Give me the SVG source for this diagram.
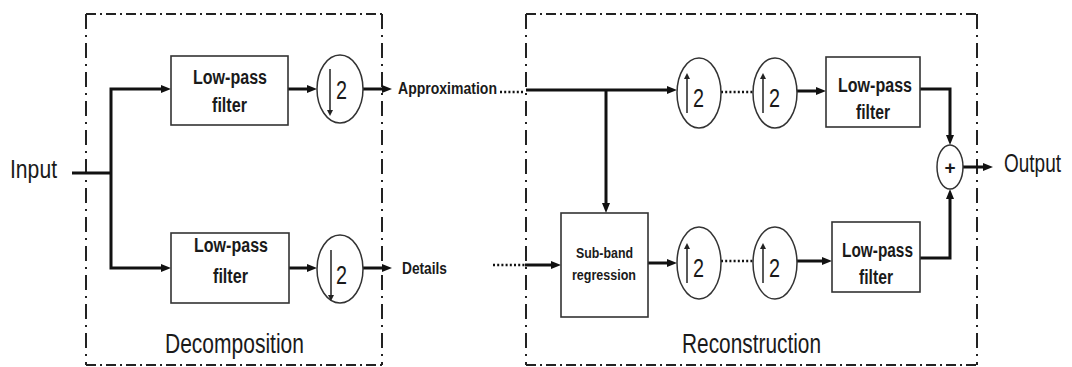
<svg xmlns="http://www.w3.org/2000/svg" width="1072" height="367" viewBox="0 0 1072 367">
<style>
.frameh{fill:none;stroke:#222;stroke-width:2;stroke-dasharray:10 4 2 4}
.framev{fill:none;stroke:#222;stroke-width:2;stroke-dasharray:15 6 2 6}
.box{fill:#fff;stroke:#333;stroke-width:1.6}
.circ{fill:#fff;stroke:#333;stroke-width:1.5}
.wire{fill:none;stroke:#111;stroke-width:3;stroke-linejoin:miter}
.arr{marker-end:url(#ah)}
.dots{fill:none;stroke:#111;stroke-width:2.5;stroke-dasharray:2 2.2}
.thin{fill:none;stroke:#222;stroke-width:1.5;marker-end:url(#ahs)}
.bl{font-family:"Liberation Sans",Arial,sans-serif;font-weight:bold;fill:#1a1a1a}
.lab{font-family:"Liberation Sans",Arial,sans-serif;fill:#1a1a1a}
.two{font-family:"Liberation Sans",Arial,sans-serif;font-size:26px;fill:#1a1a1a}
</style>
<defs>
<marker id="ah" viewBox="0 0 10 8" markerWidth="10" markerHeight="8" refX="3" refY="4" orient="auto" markerUnits="userSpaceOnUse">
<path d="M0,0 L10,4 L0,8 z" fill="#111"/>
</marker>
<marker id="ahs" viewBox="0 0 6 6" markerWidth="6" markerHeight="6" refX="1" refY="3" orient="auto" markerUnits="userSpaceOnUse">
<path d="M0,0 L6,3 L0,6 z" fill="#222"/>
</marker>
</defs>

<g id="frame-decomposition">
<path class="frameh" d="M86,14 H382 M86,365 H382"/>
<path class="framev" d="M86,14 V365 M382,14 V365"/>
<text class="lab" x="165" y="353" font-size="27" textLength="139" lengthAdjust="spacingAndGlyphs">Decomposition</text>
</g>
<g id="frame-reconstruction">
<path class="frameh" d="M526,14 H977 M526,365 H977"/>
<path class="framev" d="M526,14 V365 M977,14 V365"/>
<text class="lab" x="682" y="353" font-size="27" textLength="139" lengthAdjust="spacingAndGlyphs">Reconstruction</text>
</g>

<g id="connectors">
<path class="wire" d="M72,173 H111"/>
<path class="wire arr" d="M111,173 V89 H164"/>
<path class="wire arr" d="M111,173 V268 H164"/>
<path class="wire arr" d="M288,89 H310"/>
<path class="wire arr" d="M289,268 H310"/>
<path class="wire arr" d="M363,89 H385"/>
<path class="wire arr" d="M363,268 H385"/>
<path class="dots" d="M500,92 H525"/>
<path class="dots" d="M493,265 H525"/>
<path class="wire arr" d="M526,90 H670"/>
<path class="wire arr" d="M606,90 V206"/>
<path class="wire arr" d="M525,265 H554"/>
<path class="wire arr" d="M648,263 H670"/>
<path class="dots" d="M721,92 H753"/>
<path class="dots" d="M721,261 H753"/>
<path class="wire arr" d="M797,91 H819"/>
<path class="wire arr" d="M797,261 H825"/>
<path class="wire arr" d="M920,89 H950 V138"/>
<path class="wire arr" d="M920,258 H950 V196"/>
<path class="wire arr" d="M963,167 H986"/>
</g>

<g id="input">
<text class="lab" x="10" y="178" font-size="26" textLength="47" lengthAdjust="spacingAndGlyphs">Input</text>
</g>

<g id="lpf-dec-top">
<rect class="box" x="171" y="56" width="117" height="69"/>
<text class="bl" x="193" y="84" font-size="20" textLength="74" lengthAdjust="spacingAndGlyphs">Low-pass</text>
<text class="bl" x="212" y="112" font-size="20" textLength="35" lengthAdjust="spacingAndGlyphs">filter</text>
</g>
<g id="lpf-dec-bottom">
<rect class="box" x="171" y="233" width="118" height="70"/>
<text class="bl" x="194" y="252" font-size="20" textLength="74" lengthAdjust="spacingAndGlyphs">Low-pass</text>
<text class="bl" x="213" y="283" font-size="20" textLength="35" lengthAdjust="spacingAndGlyphs">filter</text>
</g>

<g id="down-top">
<ellipse class="circ" cx="340" cy="89" rx="23" ry="34"/>
<path class="thin" d="M330,69 V111"/>
<text class="two" x="336" y="99" textLength="11" lengthAdjust="spacingAndGlyphs">2</text>
</g>
<g id="down-bottom">
<ellipse class="circ" cx="340" cy="269" rx="23" ry="34"/>
<path class="thin" d="M331,250 V296"/>
<text class="two" x="336" y="284" textLength="11" lengthAdjust="spacingAndGlyphs">2</text>
</g>

<g id="approximation">
<text class="bl" x="398" y="94" font-size="17" textLength="99" lengthAdjust="spacingAndGlyphs">Approximation</text>
</g>
<g id="details">
<text class="bl" x="402" y="274" font-size="17" textLength="45" lengthAdjust="spacingAndGlyphs">Details</text>
</g>

<g id="subband-regression">
<rect class="box" x="561" y="213" width="87" height="104"/>
<text class="bl" x="576" y="258" font-size="15" textLength="57" lengthAdjust="spacingAndGlyphs">Sub-band</text>
<text class="bl" x="572" y="280" font-size="15" textLength="64" lengthAdjust="spacingAndGlyphs">regression</text>
</g>

<g id="up-top-1">
<ellipse class="circ" cx="699" cy="93" rx="22" ry="35"/>
<path class="thin" d="M687,113 V78"/>
<text class="two" x="693" y="107" textLength="11" lengthAdjust="spacingAndGlyphs">2</text>
</g>
<g id="up-top-2">
<ellipse class="circ" cx="775" cy="93" rx="22" ry="35"/>
<path class="thin" d="M763,113 V78"/>
<text class="two" x="769" y="107" textLength="11" lengthAdjust="spacingAndGlyphs">2</text>
</g>
<g id="up-bottom-1">
<ellipse class="circ" cx="699" cy="263" rx="22" ry="36"/>
<path class="thin" d="M687,283 V248"/>
<text class="two" x="693" y="277" textLength="11" lengthAdjust="spacingAndGlyphs">2</text>
</g>
<g id="up-bottom-2">
<ellipse class="circ" cx="775" cy="263" rx="22" ry="36"/>
<path class="thin" d="M763,283 V248"/>
<text class="two" x="769" y="277" textLength="11" lengthAdjust="spacingAndGlyphs">2</text>
</g>

<g id="lpf-rec-top">
<rect class="box" x="826" y="57" width="94" height="70"/>
<text class="bl" x="838" y="92" font-size="20" textLength="74" lengthAdjust="spacingAndGlyphs">Low-pass</text>
<text class="bl" x="856" y="119" font-size="20" textLength="34" lengthAdjust="spacingAndGlyphs">filter</text>
</g>
<g id="lpf-rec-bottom">
<rect class="box" x="832" y="222" width="88" height="70"/>
<text class="bl" x="842" y="257" font-size="20" textLength="71" lengthAdjust="spacingAndGlyphs">Low-pass</text>
<text class="bl" x="859" y="284" font-size="20" textLength="34" lengthAdjust="spacingAndGlyphs">filter</text>
</g>

<g id="sum">
<ellipse class="circ" cx="950" cy="167" rx="13" ry="22"/>
<text class="bl" x="950" y="174" font-size="19" text-anchor="middle">+</text>
</g>

<g id="output">
<text class="lab" transform="translate(1004,172) scale(0.73,1)" x="0" y="0" font-size="26">Output</text>
</g>
</svg>
